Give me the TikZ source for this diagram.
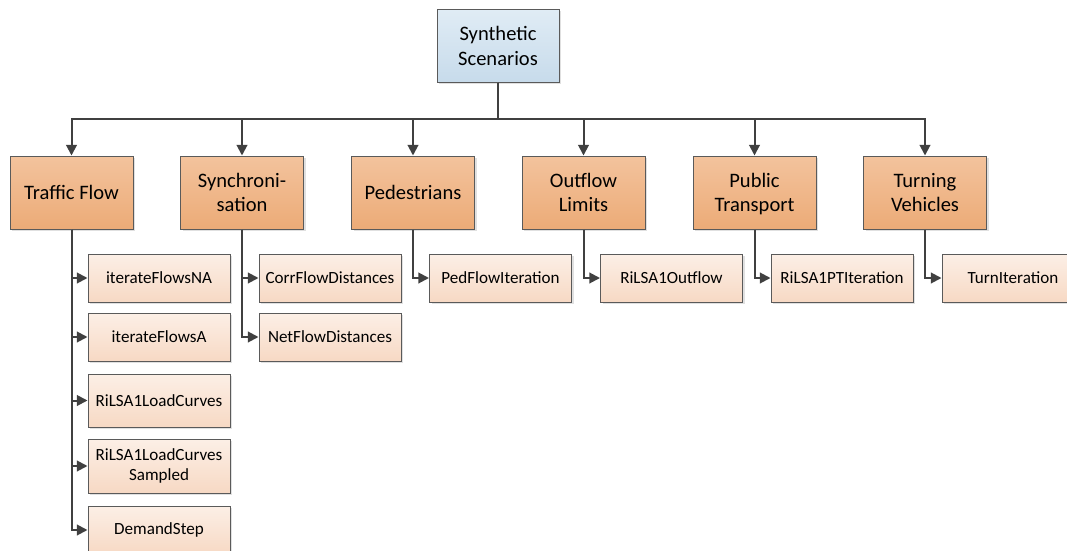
\documentclass[tikz,border=0pt]{standalone}
\usepackage{fontspec}
\setmainfont{Carlito}
\usetikzlibrary{arrows.meta,shadows}
\definecolor{headtop}{HTML}{E0ECF5}
\definecolor{headbot}{HTML}{C7DBEB}
\definecolor{topictop}{HTML}{F3C39D}
\definecolor{topicbot}{HTML}{ECAB77}
\definecolor{leaftop}{HTML}{FCEFE6}
\definecolor{leafbot}{HTML}{F7D9C4}
\definecolor{boxline}{HTML}{5A5A5A}
\definecolor{linkcol}{HTML}{404040}

\begin{document}
\begin{tikzpicture}[x=0.75pt,y=-0.75pt]
\tikzstyle{every node}+=[inner sep=0pt]
\tikzstyle{box}=[draw=boxline,line width=0.75pt,align=center,drop shadow={shadow xshift=1.5pt,shadow yshift=-1.5pt,fill=black,opacity=0.12}]
\tikzstyle{headbox}=[box,top color=headtop,bottom color=headbot,minimum width=91.5pt,minimum height=54.75pt,font=\fontsize{15.4}{18.75}\selectfont]
\tikzstyle{topicbox}=[box,top color=topictop,bottom color=topicbot,minimum width=92.25pt,minimum height=54.75pt,font=\fontsize{15.4}{18}\selectfont]
\tikzstyle{leafbox}=[box,top color=leaftop,bottom color=leafbot,minimum width=106.5pt,minimum height=36pt,font=\fontsize{12.8}{15.5}\selectfont]
\tikzstyle{link}=[draw=linkcol,line width=1.5pt,-{Triangle[length=8pt,width=8pt]}]
\useasboundingbox (0,0) rectangle (1067,550);
\node [headbox] (synth) at (498,45.5) {Synthetic\\Scenarios};
\coordinate (bus) at (498,119);
\node [topicbox] (traffic) at (71.5,192.5) {Traffic Flow};
\node [topicbox] (sync) at (242,192.5) {Synchroni-\\sation};
\node [topicbox] (ped) at (413,192.5) {Pedestrians};
\node [topicbox] (outflow) at (583.5,192.5) {Outflow\\Limits};
\node [topicbox] (pt) at (754.5,192.5) {Public\\\smash{Transport}};
\node [topicbox] (turn) at (925,192.5) {Turning\\Vehicles};
\node [leafbox] (flowsna) at (159,278) {iterateFlowsNA};
\node [leafbox] (flowsa) at (159,337) {iterateFlowsA};
\node [leafbox,minimum height=39.75pt] (loadcurves) at (159,400.5) {RiLSA1LoadCurves};
\node [leafbox,minimum height=40.5pt] (loadsampled) at (159,466) {RiLSA1LoadCurves\\Sampled};
\node [leafbox] (demand) at (159,530) {DemandStep};
\node [leafbox] (corrdist) at (330,278) {CorrFlowDistances};
\node [leafbox] (netdist) at (330,337) {NetFlowDistances};
\node [leafbox] (pediter) at (500.5,278) {PedFlowIteration};
\node [leafbox] (rilsaout) at (671.5,278) {RiLSA1Outflow};
\node [leafbox] (rilsapt) at (842,278) {RiLSA1PTIteration};
\node [leafbox] (turniter) at (1013,278) {TurnIteration};
\draw [link] (synth.south) -- (bus) -| (traffic.north);
\draw [link] (synth.south) -- (bus) -| (sync.north);
\draw [link] (synth.south) -- (bus) -| (ped.north);
\draw [link] (synth.south) -- (bus) -| (outflow.north);
\draw [link] (synth.south) -- (bus) -| (pt.north);
\draw [link] (synth.south) -- (bus) -| (turn.north);
\draw [link] (traffic.south) |- (flowsna.west);
\draw [link] (traffic.south) |- (flowsa.west);
\draw [link] (traffic.south) |- (loadcurves.west);
\draw [link] (traffic.south) |- (loadsampled.west);
\draw [link] (traffic.south) |- (demand.west);
\draw [link] (sync.south) |- (corrdist.west);
\draw [link] (sync.south) |- (netdist.west);
\draw [link] (ped.south) |- (pediter.west);
\draw [link] (outflow.south) |- (rilsaout.west);
\draw [link] (pt.south) |- (rilsapt.west);
\draw [link] (turn.south) |- (turniter.west);
\end{tikzpicture}
\end{document}
